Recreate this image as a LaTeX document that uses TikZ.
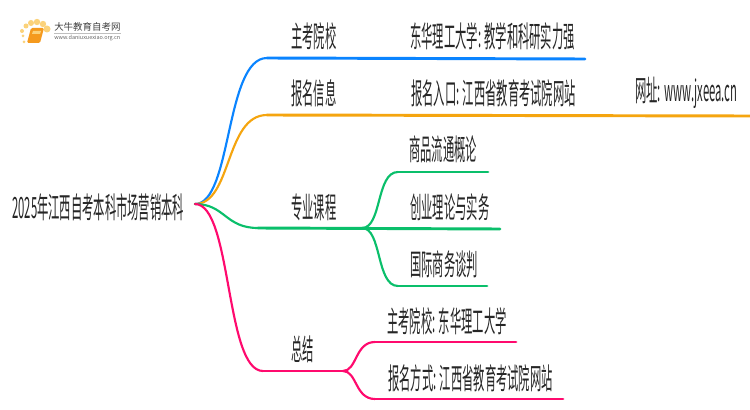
\documentclass[tikz,border=0pt]{standalone}
\usepackage{fontspec}
\newfontfamily\cjk[FakeStretch=0.385]{Noto Sans CJK SC}
\newfontfamily\cjklogo{Noto Sans CJK SC}
\definecolor{bluebr}{HTML}{0A84FF}
\definecolor{orangebr}{HTML}{F5A50F}
\definecolor{greenbr}{HTML}{0ABF6B}
\definecolor{pinkbr}{HTML}{FF0A6E}
\definecolor{bookor}{HTML}{F59A1E}
\definecolor{dotor}{HTML}{FBD27A}
\tikzset{
  txt/.style={anchor=west,inner sep=0pt,font=\cjk\fontsize{22}{24}\selectfont,text=black!85},
  curve/.style={line width=1.6pt,line cap=round},
  run/.style={line width=2.2pt,line cap=round},
  dot/.style={fill=dotor,draw=none}
}
\begin{document}
\begin{tikzpicture}[x=0.75pt,y=-0.75pt]
  \useasboundingbox (0,0) rectangle (750,410);
  \fill[white] (0,0) rectangle (750,410);

  % logo
  \foreach \x/\y/\r in {26/26/2.5,31/23/3,37/22/3.2,43/24/3.2,47/29/3.5,22/31/2,23/36/1.5,24/42/1.5} {\fill[dot] (\x,\y) circle (\r*0.75pt);}
  \fill[bookor,rounded corners=1pt] (31,28) -- (44,28) -- (40,43) -- (27,43) -- cycle;
  \fill[dotor] (33,31) -- (41,31) -- (40,34) -- (32,34) -- cycle;
  \node[anchor=west,inner sep=0pt,font=\cjklogo\fontsize{7.1}{8}\selectfont,text=black!75] (logotitle) at (54,27) {大牛教育自考网};
  \node[anchor=west,inner sep=0pt,font=\cjklogo\fontsize{4.1}{5}\selectfont,text=black!60] (logourl) at (54,38.5) {www.daniuxuexiao.org.cn};
  \draw[black!25,line width=0.4pt] (54,33.5) -- (121,33.5);

  % coordinates of the branches
  \coordinate (root) at (195,204);
  \coordinate (A) at (267,58); \coordinate (Aend) at (585,59);
  \coordinate (B) at (267,115); \coordinate (Bend) at (750,116);
  \coordinate (C) at (258,228); \coordinate (Cmid) at (362,228); \coordinate (Cend) at (500,229);
  \coordinate (C1) at (398,172); \coordinate (C1end) at (488,172);
  \coordinate (C3) at (398,286); \coordinate (C3end) at (487,286);
  \coordinate (D) at (263,371); \coordinate (Dmid) at (343,371);
  \coordinate (D1) at (375,342); \coordinate (D1end) at (516,342);
  \coordinate (D2) at (375,399); \coordinate (D2end) at (563,399);

  % blue and orange
  \draw[curve,bluebr] (root) .. controls (232,204) and (225,58) .. (A);
  \draw[run,bluebr] (A) -- (Aend);
  \draw[curve,orangebr] (root) .. controls (232,204) and (225,115) .. (B);
  \draw[run,orangebr] (B) -- (Bend);

  % green
  \draw[curve,greenbr] (root) .. controls (225,204) and (225,228) .. (C);
  \draw[run,greenbr] (C) -- (Cend);
  \draw[curve,greenbr] (Cmid) .. controls (382,228) and (376,172) .. (C1);
  \draw[run,greenbr] (C1) -- (C1end);
  \draw[curve,greenbr] (Cmid) .. controls (382,228) and (376,286) .. (C3);
  \draw[run,greenbr] (C3) -- (C3end);

  % pink
  \draw[curve,pinkbr] (root) .. controls (232,204) and (225,371) .. (D);
  \draw[run,pinkbr] (D) -- (Dmid);
  \draw[curve,pinkbr] (Dmid) .. controls (357,371) and (355,342) .. (D1);
  \draw[run,pinkbr] (D1) -- (D1end);
  \draw[curve,pinkbr] (Dmid) .. controls (357,371) and (355,399) .. (D2);
  \draw[run,pinkbr] (D2) -- (D2end);

  % texts
  \node[txt] (roottxt) at (12,207) {2025年江西自考本科市场营销本科};
  \node[txt] (zhukao) at (291,36) {主考院校};
  \node[txt] (zhukaoa) at (410,36) {东华理工大学: 教学和科研实力强};
  \node[txt] (baoming) at (291,93) {报名信息};
  \node[txt] (baominga) at (411,93) {报名入口: 江西省教育考试院网站};
  \node[txt] (wangzhi) at (635,93) {网址: www.jxeea.cn};
  \node[txt] (kecheng) at (291,207) {专业课程};
  \node[txt] (kechenga) at (409,149) {商品流通概论};
  \node[txt] (kechengb) at (410,207) {创业理论与实务};
  \node[txt] (kechengc) at (410,264) {国际商务谈判};
  \node[txt] (zongjie) at (291,349) {总结};
  \node[txt] (zongjiea) at (387,321) {主考院校: 东华理工大学};
  \node[txt] (zongjieb) at (388,378) {报名方式: 江西省教育考试院网站};
\end{tikzpicture}
\end{document}
